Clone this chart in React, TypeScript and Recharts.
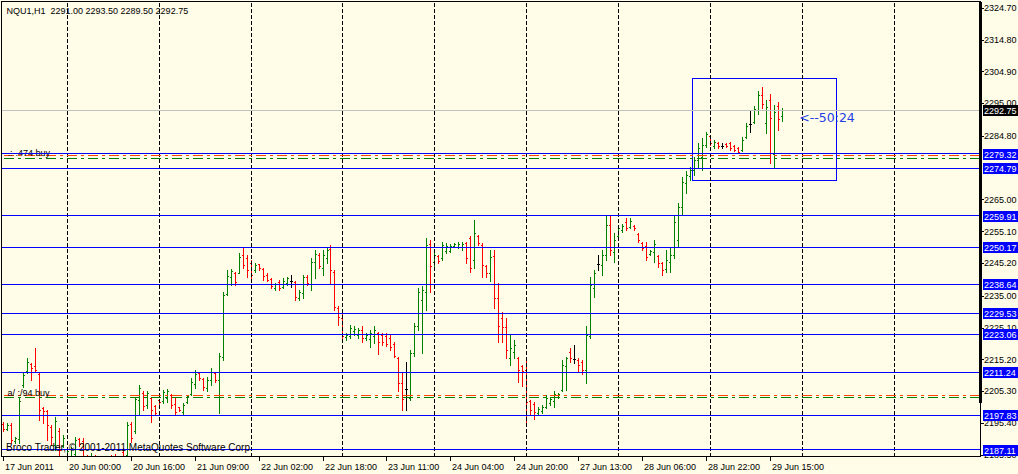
import React from "react";
import {
  ComposedChart,
  Bar,
  XAxis,
  YAxis,
  ReferenceLine,
  ReferenceArea,
  ReferenceDot,
} from "recharts";

const W = 1018;
const H = 474;
const BG = "#fffce8";
const FONT = "'Liberation Sans', Arial, sans-serif";
const BLUE = "#0000ff";

// hourly bars, 17 Jun 2011 .. 29 Jun 2011
const opens = [
  2195.0, 2193.5, 2194.75, 2189.75, 2190.5, 2207.25, 2211.5, 2213.75, 2213.25, 2210.75,
  2200.0, 2199.0, 2194.0, 2188.5, 2193.0, 2188.25, 2184.5, 2185.0, 2185.75, 2190.5,
  2189.75, 2184.75, 2182.25, 2184.75, 2181.25, 2183.75, 2182.0, 2184.25, 2185.0, 2183.0,
  2186.25, 2185.5, 2195.0, 2193.0, 2202.5, 2204.75, 2201.0, 2203.25, 2200.75, 2202.5,
  2202.25, 2203.25, 2204.0, 2201.25, 2200.25, 2198.75, 2202.0, 2204.5, 2207.5, 2211.0,
  2209.0, 2206.25, 2208.75, 2211.0, 2208.75, 2216.0, 2235.5, 2240.75, 2242.25, 2242.25,
  2247.75, 2246.75, 2245.25, 2243.0, 2244.75, 2243.25, 2241.5, 2240.25, 2237.5, 2239.25,
  2237.75, 2239.0, 2239.75, 2239.25, 2234.25, 2235.75, 2240.75, 2238.75, 2245.5, 2247.75,
  2243.75, 2246.75, 2249.5, 2242.5, 2231.25, 2228.0, 2222.25, 2222.5, 2224.0, 2222.75,
  2224.25, 2221.75, 2221.5, 2222.5, 2223.5, 2222.75, 2222.5, 2221.75, 2220.0, 2215.5,
  2207.75, 2206.0, 2203.25, 2217.25, 2225.5, 2233.75, 2236.25, 2251.0, 2245.5, 2247.5,
  2246.75, 2249.0, 2249.0, 2250.5, 2250.25, 2250.25, 2251.5, 2253.0, 2246.25, 2253.75,
  2250.75, 2244.25, 2242.0, 2247.5, 2234.25, 2228.0, 2225.25, 2215.5, 2217.5, 2215.5,
  2213.0, 2211.75, 2202.25, 2201.25, 2198.5, 2199.0, 2200.25, 2201.5, 2202.25, 2203.5,
  2205.5, 2213.0, 2217.5, 2215.25, 2215.0, 2214.5, 2211.75, 2222.5, 2237.5, 2245.0,
  2244.5, 2247.75, 2257.0, 2248.75, 2253.5, 2255.5, 2258.0, 2256.5, 2256.75, 2254.25,
  2251.5, 2250.5, 2248.0, 2248.75, 2247.5, 2245.25, 2243.25, 2245.5, 2247.75, 2252.5,
  2262.75, 2270.25, 2272.25, 2274.25, 2277.25, 2278.25, 2282.0, 2284.75, 2281.75, 2282.75,
  2281.75, 2282.25, 2282.5, 2281.75, 2281.0, 2280.5, 2284.5, 2288.5, 2289.25, 2292.75,
  2297.5, 2288.75, 2296.0, 2279.25, 2294.25, 2291.0,
];
const highs = [
  2195.75, 2195.25, 2195.5, 2191.0, 2203.5, 2211.25, 2215.5, 2214.0, 2218.75, 2211.0,
  2200.25, 2199.5, 2194.75, 2197.25, 2193.75, 2191.75, 2187.25, 2188.0, 2191.0, 2190.75,
  2190.75, 2185.5, 2186.0, 2185.5, 2184.5, 2185.0, 2184.75, 2185.5, 2185.75, 2185.0,
  2187.5, 2195.75, 2195.75, 2203.5, 2207.25, 2205.25, 2205.25, 2203.5, 2201.0, 2202.75,
  2205.75, 2206.0, 2204.5, 2203.25, 2200.5, 2201.5, 2204.0, 2209.5, 2212.0, 2211.25,
  2209.5, 2209.75, 2212.5, 2211.25, 2217.25, 2236.25, 2243.0, 2243.25, 2242.5, 2248.25,
  2250.0, 2247.75, 2246.25, 2245.25, 2245.0, 2243.75, 2242.0, 2240.5, 2239.0, 2240.0,
  2240.5, 2241.0, 2241.5, 2239.5, 2236.75, 2241.5, 2241.5, 2246.75, 2249.25, 2248.25,
  2249.25, 2250.25, 2250.75, 2243.0, 2231.75, 2229.75, 2223.5, 2226.0, 2225.5, 2225.0,
  2225.5, 2223.5, 2224.25, 2225.5, 2223.75, 2223.5, 2223.5, 2222.75, 2220.75, 2216.0,
  2211.25, 2214.5, 2218.0, 2226.5, 2237.5, 2238.0, 2253.0, 2252.5, 2248.25, 2247.75,
  2251.75, 2251.5, 2251.0, 2251.5, 2251.75, 2251.75, 2251.75, 2253.5, 2258.5, 2254.0,
  2251.5, 2244.5, 2249.25, 2249.25, 2239.0, 2230.0, 2228.0, 2222.75, 2221.25, 2216.0,
  2213.5, 2215.0, 2202.5, 2202.0, 2200.5, 2201.0, 2204.0, 2203.5, 2205.25, 2204.75,
  2215.0, 2216.0, 2218.75, 2219.75, 2215.5, 2215.0, 2225.5, 2241.0, 2243.0, 2247.75,
  2249.25, 2259.75, 2259.75, 2254.5, 2257.0, 2257.5, 2259.25, 2259.25, 2257.0, 2254.5,
  2251.75, 2251.75, 2249.25, 2252.5, 2247.75, 2245.5, 2249.25, 2249.75, 2259.75, 2264.0,
  2272.0, 2273.75, 2275.25, 2278.25, 2282.5, 2284.0, 2286.0, 2285.0, 2283.5, 2283.0,
  2282.5, 2282.5, 2283.0, 2282.0, 2281.5, 2284.5, 2288.75, 2293.0, 2294.0, 2298.75,
  2300.0, 2296.0, 2298.0, 2294.5, 2295.5, 2293.5,
];
const lows = [
  2192.75, 2193.25, 2189.25, 2189.25, 2189.25, 2206.5, 2211.0, 2208.75, 2211.25, 2196.25,
  2195.5, 2190.0, 2188.5, 2187.0, 2184.5, 2188.0, 2183.75, 2184.5, 2184.75, 2188.25,
  2183.75, 2182.5, 2181.25, 2180.75, 2180.0, 2181.25, 2180.75, 2182.0, 2182.25, 2181.25,
  2183.25, 2184.5, 2189.5, 2192.25, 2197.75, 2199.5, 2200.0, 2195.75, 2197.75, 2201.25,
  2201.5, 2202.0, 2200.0, 2197.75, 2199.0, 2197.75, 2201.5, 2204.0, 2206.25, 2208.75,
  2205.75, 2205.25, 2207.25, 2208.25, 2198.5, 2215.0, 2235.25, 2238.25, 2238.25, 2242.0,
  2243.75, 2241.0, 2240.5, 2242.5, 2243.0, 2240.0, 2239.5, 2237.5, 2236.75, 2236.75,
  2237.5, 2238.25, 2237.75, 2233.75, 2233.75, 2234.25, 2238.25, 2236.75, 2240.5, 2243.75,
  2241.5, 2245.25, 2238.75, 2230.5, 2226.0, 2221.25, 2221.25, 2221.75, 2222.75, 2221.75,
  2220.75, 2221.25, 2219.0, 2220.25, 2217.0, 2219.75, 2219.25, 2218.0, 2216.0, 2205.25,
  2199.5, 2199.5, 2202.5, 2216.25, 2224.25, 2217.25, 2230.5, 2236.25, 2243.75, 2245.25,
  2246.25, 2248.25, 2248.5, 2250.25, 2249.75, 2249.25, 2245.25, 2242.5, 2243.75, 2250.75,
  2241.0, 2241.0, 2239.5, 2231.25, 2220.75, 2220.75, 2215.5, 2213.5, 2215.5, 2208.25,
  2206.75, 2195.5, 2197.75, 2196.75, 2197.75, 2198.5, 2200.0, 2201.0, 2200.5, 2203.25,
  2205.25, 2205.5, 2214.5, 2214.0, 2211.25, 2210.75, 2207.75, 2221.75, 2234.75, 2243.0,
  2241.5, 2246.25, 2247.75, 2245.5, 2253.0, 2255.0, 2255.5, 2256.0, 2255.5, 2251.75,
  2249.25, 2246.25, 2247.75, 2245.5, 2244.0, 2241.5, 2242.5, 2242.5, 2246.75, 2250.25,
  2260.25, 2267.0, 2271.0, 2272.5, 2274.75, 2274.25, 2281.5, 2282.0, 2281.0, 2281.0,
  2281.0, 2281.5, 2280.5, 2280.0, 2279.5, 2280.0, 2284.0, 2286.0, 2288.75, 2291.75,
  2293.5, 2285.75, 2276.25, 2274.75, 2286.75, 2289.5,
];
const closes = [
  2193.5, 2194.75, 2190.0, 2190.75, 2202.25, 2210.25, 2214.5, 2212.5, 2212.0, 2199.5,
  2199.0, 2194.75, 2191.0, 2196.0, 2187.0, 2190.75, 2186.75, 2187.25, 2190.0, 2188.75,
  2184.75, 2183.25, 2184.75, 2182.0, 2183.5, 2182.25, 2183.75, 2183.0, 2183.25, 2184.5,
  2184.5, 2194.75, 2190.75, 2202.75, 2206.25, 2200.75, 2204.75, 2199.5, 2198.5, 2202.0,
  2205.0, 2205.25, 2201.0, 2198.75, 2199.5, 2201.0, 2203.75, 2208.25, 2210.75, 2209.5,
  2206.5, 2208.75, 2211.25, 2208.75, 2216.25, 2235.25, 2241.25, 2242.75, 2239.25, 2247.0,
  2244.5, 2243.0, 2241.5, 2244.5, 2243.75, 2241.25, 2240.0, 2238.0, 2238.75, 2237.5,
  2239.5, 2240.5, 2239.75, 2234.5, 2236.25, 2240.75, 2239.0, 2245.5, 2248.0, 2244.25,
  2247.75, 2249.25, 2243.0, 2231.5, 2228.5, 2222.5, 2222.75, 2225.0, 2224.75, 2224.25,
  2221.75, 2222.75, 2223.5, 2224.25, 2220.5, 2220.5, 2220.0, 2219.0, 2216.25, 2207.75,
  2202.75, 2206.0, 2217.25, 2225.5, 2236.25, 2236.75, 2250.75, 2244.25, 2247.75, 2245.75,
  2250.75, 2250.5, 2250.5, 2251.0, 2251.0, 2251.0, 2246.75, 2243.75, 2254.5, 2251.5,
  2244.5, 2242.0, 2247.0, 2234.25, 2225.5, 2225.25, 2218.0, 2218.75, 2219.75, 2211.75,
  2211.5, 2202.0, 2199.5, 2198.75, 2199.75, 2200.25, 2203.25, 2202.75, 2204.5, 2204.5,
  2213.5, 2215.5, 2215.5, 2215.25, 2213.5, 2211.75, 2222.75, 2238.25, 2242.25, 2245.0,
  2247.75, 2257.0, 2249.25, 2252.25, 2256.0, 2256.75, 2256.0, 2258.25, 2256.0, 2252.25,
  2250.0, 2247.0, 2249.0, 2251.0, 2245.25, 2243.0, 2246.25, 2247.75, 2258.0, 2262.75,
  2270.5, 2272.75, 2274.25, 2277.25, 2281.0, 2282.0, 2285.5, 2282.5, 2283.0, 2281.75,
  2281.75, 2281.75, 2281.0, 2280.5, 2279.75, 2283.5, 2288.0, 2288.5, 2293.25, 2297.5,
  2294.75, 2293.75, 2290.5, 2292.25, 2290.0, 2292.75,
];

const timeLabels = [
  "17 Jun 2011", "20 Jun 00:00", "20 Jun 16:00", "21 Jun 09:00", "22 Jun 02:00",
  "22 Jun 18:00", "23 Jun 11:00", "24 Jun 04:00", "24 Jun 20:00", "27 Jun 13:00",
  "28 Jun 06:00", "28 Jun 22:00", "29 Jun 15:00",
];
const priceTicks = [
  2324.7, 2314.8, 2304.9, 2295.0, 2284.8, 2265.0, 2255.1, 2245.2, 2235.0,
  2225.1, 2215.2, 2205.3, 2195.4, 2185.5,
];
const levelLines = [
  2279.32, 2274.79, 2259.91, 2250.17, 2238.64, 2229.53, 2223.06, 2211.24, 2197.83, 2187.11,
];
const orderOrange = [2278.63, 2203.99];
const orderGreen = [2277.82, 2203.37];
const orderTexts = [".:·.474 buy", "a/ :/94 buy"];
const gridBars = [16, 39, 62, 85, 108, 131, 154, 177, 200, 223];
const boxBars = [173, 208];
const boxPrices = [2271.06, 2302.75];
const noteText = "<--50:24";
const notePos = { bar: 199, price: 2290.45 };

const SLOTS = 245; // bars plus right-side shift
const TICKS_EVERY = 16;
const yDomain = [2184.78, 2326.52];

const data = Array.from({ length: SLOTS }, (_, i) =>
  i < opens.length
    ? { i, range: [lows[i], highs[i]], o: opens[i], h: highs[i], l: lows[i], c: closes[i] }
    : { i, range: null }
);
const lastIdx = opens.length - 1;
const lastPrice = closes[lastIdx];

// plain ticks first, boxed prices last so the boxes sit on top
const axisTicks = [...priceTicks, ...levelLines, lastPrice];

const fmt = (v: number) => v.toFixed(2);

const OhlcShape = (props: any) => {
  const { x, y, width, height, payload } = props;
  if (!payload || payload.o == null || !isFinite(y)) return null;
  const top = Math.min(y, y + height);
  const bot = Math.max(y, y + height);
  const span = payload.h - payload.l || 1;
  const py = (v: number) => top + ((payload.h - v) / span) * (bot - top);
  const col = Math.floor(x + width / 2);
  const color =
    payload.c > payload.o ? "#008000" : payload.c < payload.o ? "#ff0000" : "#000000";
  const yo = Math.round(py(payload.o));
  const yc = Math.round(py(payload.c));
  const t = Math.round(top);
  const b = Math.round(bot);
  return (
    <g shapeRendering="crispEdges">
      <rect x={col} y={t} width={1} height={Math.max(1, b - t + 1)} fill={color} />
      <rect x={col - 1} y={yo} width={1} height={1} fill={color} />
      <rect x={col + 1} y={yc} width={1} height={1} fill={color} />
    </g>
  );
};

const TimeTick = (props: any) => {
  const { x, y, payload } = props;
  const label = timeLabels[Math.round(payload.value / TICKS_EVERY)];
  if (!label) return null;
  const px = Math.floor(x) + 0.5;
  return (
    <g>
      <line x1={px} x2={px} y1={y} y2={y + 4} stroke="#000" />
      <text x={px + 1.5} y={y + 13} fontSize={9} fontFamily={FONT} fill="#000">
        {label}
      </text>
    </g>
  );
};

const PriceTick = (props: any) => {
  const { x, y, payload } = props;
  const v = payload.value;
  const boxed = v === lastPrice ? "#000" : levelLines.includes(v) ? BLUE : null;
  if (boxed) {
    const ry = Math.round(y);
    return (
      <g>
        <rect x={x + 3} y={ry - 5} width={40} height={11} fill={boxed} />
        <text x={x + 4} y={ry + 4} fontSize={9} fontFamily={FONT} fill="#fff">
          {fmt(v)}
        </text>
      </g>
    );
  }
  const py = Math.round(y) + 0.5;
  return (
    <g>
      <line x1={x + 1} x2={x + 4} y1={py} y2={py} stroke="#000" />
      <text x={x + 4} y={y + 3.3} fontSize={9} fontFamily={FONT} fill="#000">
        {fmt(v)}
      </text>
    </g>
  );
};

const OrderLabel = (props: any) => {
  const vb = props.viewBox || {};
  if (vb.y == null) return null;
  return (
    <text x={vb.x + 6} y={vb.y + 0.5} fontSize={9} fontFamily={FONT} fill="#000">
      {props.text}
    </text>
  );
};

const NoteShape = (props: any) => {
  const { cx, cy } = props;
  return (
    <text x={cx + 1} y={cy + 4.5} fontSize={12.5} fontFamily="'DejaVu Sans', sans-serif" fill="#1f3fe6">
      {noteText}
    </text>
  );
};

export default function App() {
  const title = `NQU1,H1  ${fmt(opens[lastIdx])} ${fmt(highs[lastIdx])} ${fmt(lows[lastIdx])} ${fmt(closes[lastIdx])}`;
  return (
    <div
      style={{
        position: "fixed",
        left: 0,
        top: 0,
        width: W,
        height: H,
        background: BG,
        overflow: "hidden",
      }}
    >
      <ComposedChart
        width={W}
        height={H}
        data={data}
        margin={{ top: 2, right: 0, bottom: 0, left: 1.5 }}
        barCategoryGap={0}
      >
        <XAxis
          dataKey="i"
          type="category"
          height={17}
          ticks={timeLabels.map((_, k) => k * TICKS_EVERY)}
          interval={0}
          tick={<TimeTick />}
          tickSize={0}
          tickMargin={0}
          axisLine={false}
          tickLine={false}
        />
        <YAxis
          orientation="right"
          type="number"
          width={38}
          domain={yDomain}
          allowDataOverflow
          ticks={axisTicks}
          interval={0}
          tick={<PriceTick />}
          tickSize={0}
          tickMargin={0}
          axisLine={false}
          tickLine={false}
        />
        {gridBars.map((b) => (
          <ReferenceLine
            key={`g${b}`}
            x={b}
            stroke="#000"
            strokeDasharray="4 2"
            shapeRendering="crispEdges"
          />
        ))}
        <Bar dataKey="range" shape={<OhlcShape />} isAnimationActive={false} />
        <ReferenceLine y={lastPrice} stroke="#c0c0c0" shapeRendering="crispEdges" />
        {orderOrange.map((p, k) => (
          <ReferenceLine
            key={`oo${k}`}
            y={p}
            stroke="#ff4500"
            strokeDasharray="10 4 3 4"
            shapeRendering="crispEdges"
            label={<OrderLabel text={orderTexts[k]} />}
          />
        ))}
        {orderGreen.map((p, k) => (
          <ReferenceLine
            key={`og${k}`}
            y={p}
            stroke="#008000"
            strokeDasharray="10 4 3 4"
            shapeRendering="crispEdges"
          />
        ))}
        {levelLines.map((p) => (
          <ReferenceLine key={`l${p}`} y={p} stroke={BLUE} shapeRendering="crispEdges" />
        ))}
        <ReferenceArea
          x1={boxBars[0]}
          x2={boxBars[1]}
          y1={boxPrices[0]}
          y2={boxPrices[1]}
          fill="none"
          fillOpacity={0}
          stroke={BLUE}
          strokeWidth={1}
          shapeRendering="crispEdges"
        />
        <ReferenceDot x={notePos.bar} y={notePos.price} r={0} shape={<NoteShape />} />
      </ComposedChart>
      <svg
        width={W}
        height={H}
        style={{ position: "absolute", left: 0, top: 0, pointerEvents: "none" }}
      >
        <rect
          x={1.5}
          y={1.5}
          width={979}
          height={455}
          fill="none"
          stroke="#000"
          shapeRendering="crispEdges"
        />
        <rect x={979} y={2} width={3} height={401} fill="#000" />
        <text x={6.5} y={14} fontSize={9} fontFamily={FONT} fill="#000" style={{ whiteSpace: "pre" }}>
          {title}
        </text>
        <text x={6} y={451} fontSize={10} fontFamily={FONT} fill="#000">
          Broco Trader, © 2001-2011 MetaQuotes Software Corp.
        </text>
      </svg>
    </div>
  );
}
